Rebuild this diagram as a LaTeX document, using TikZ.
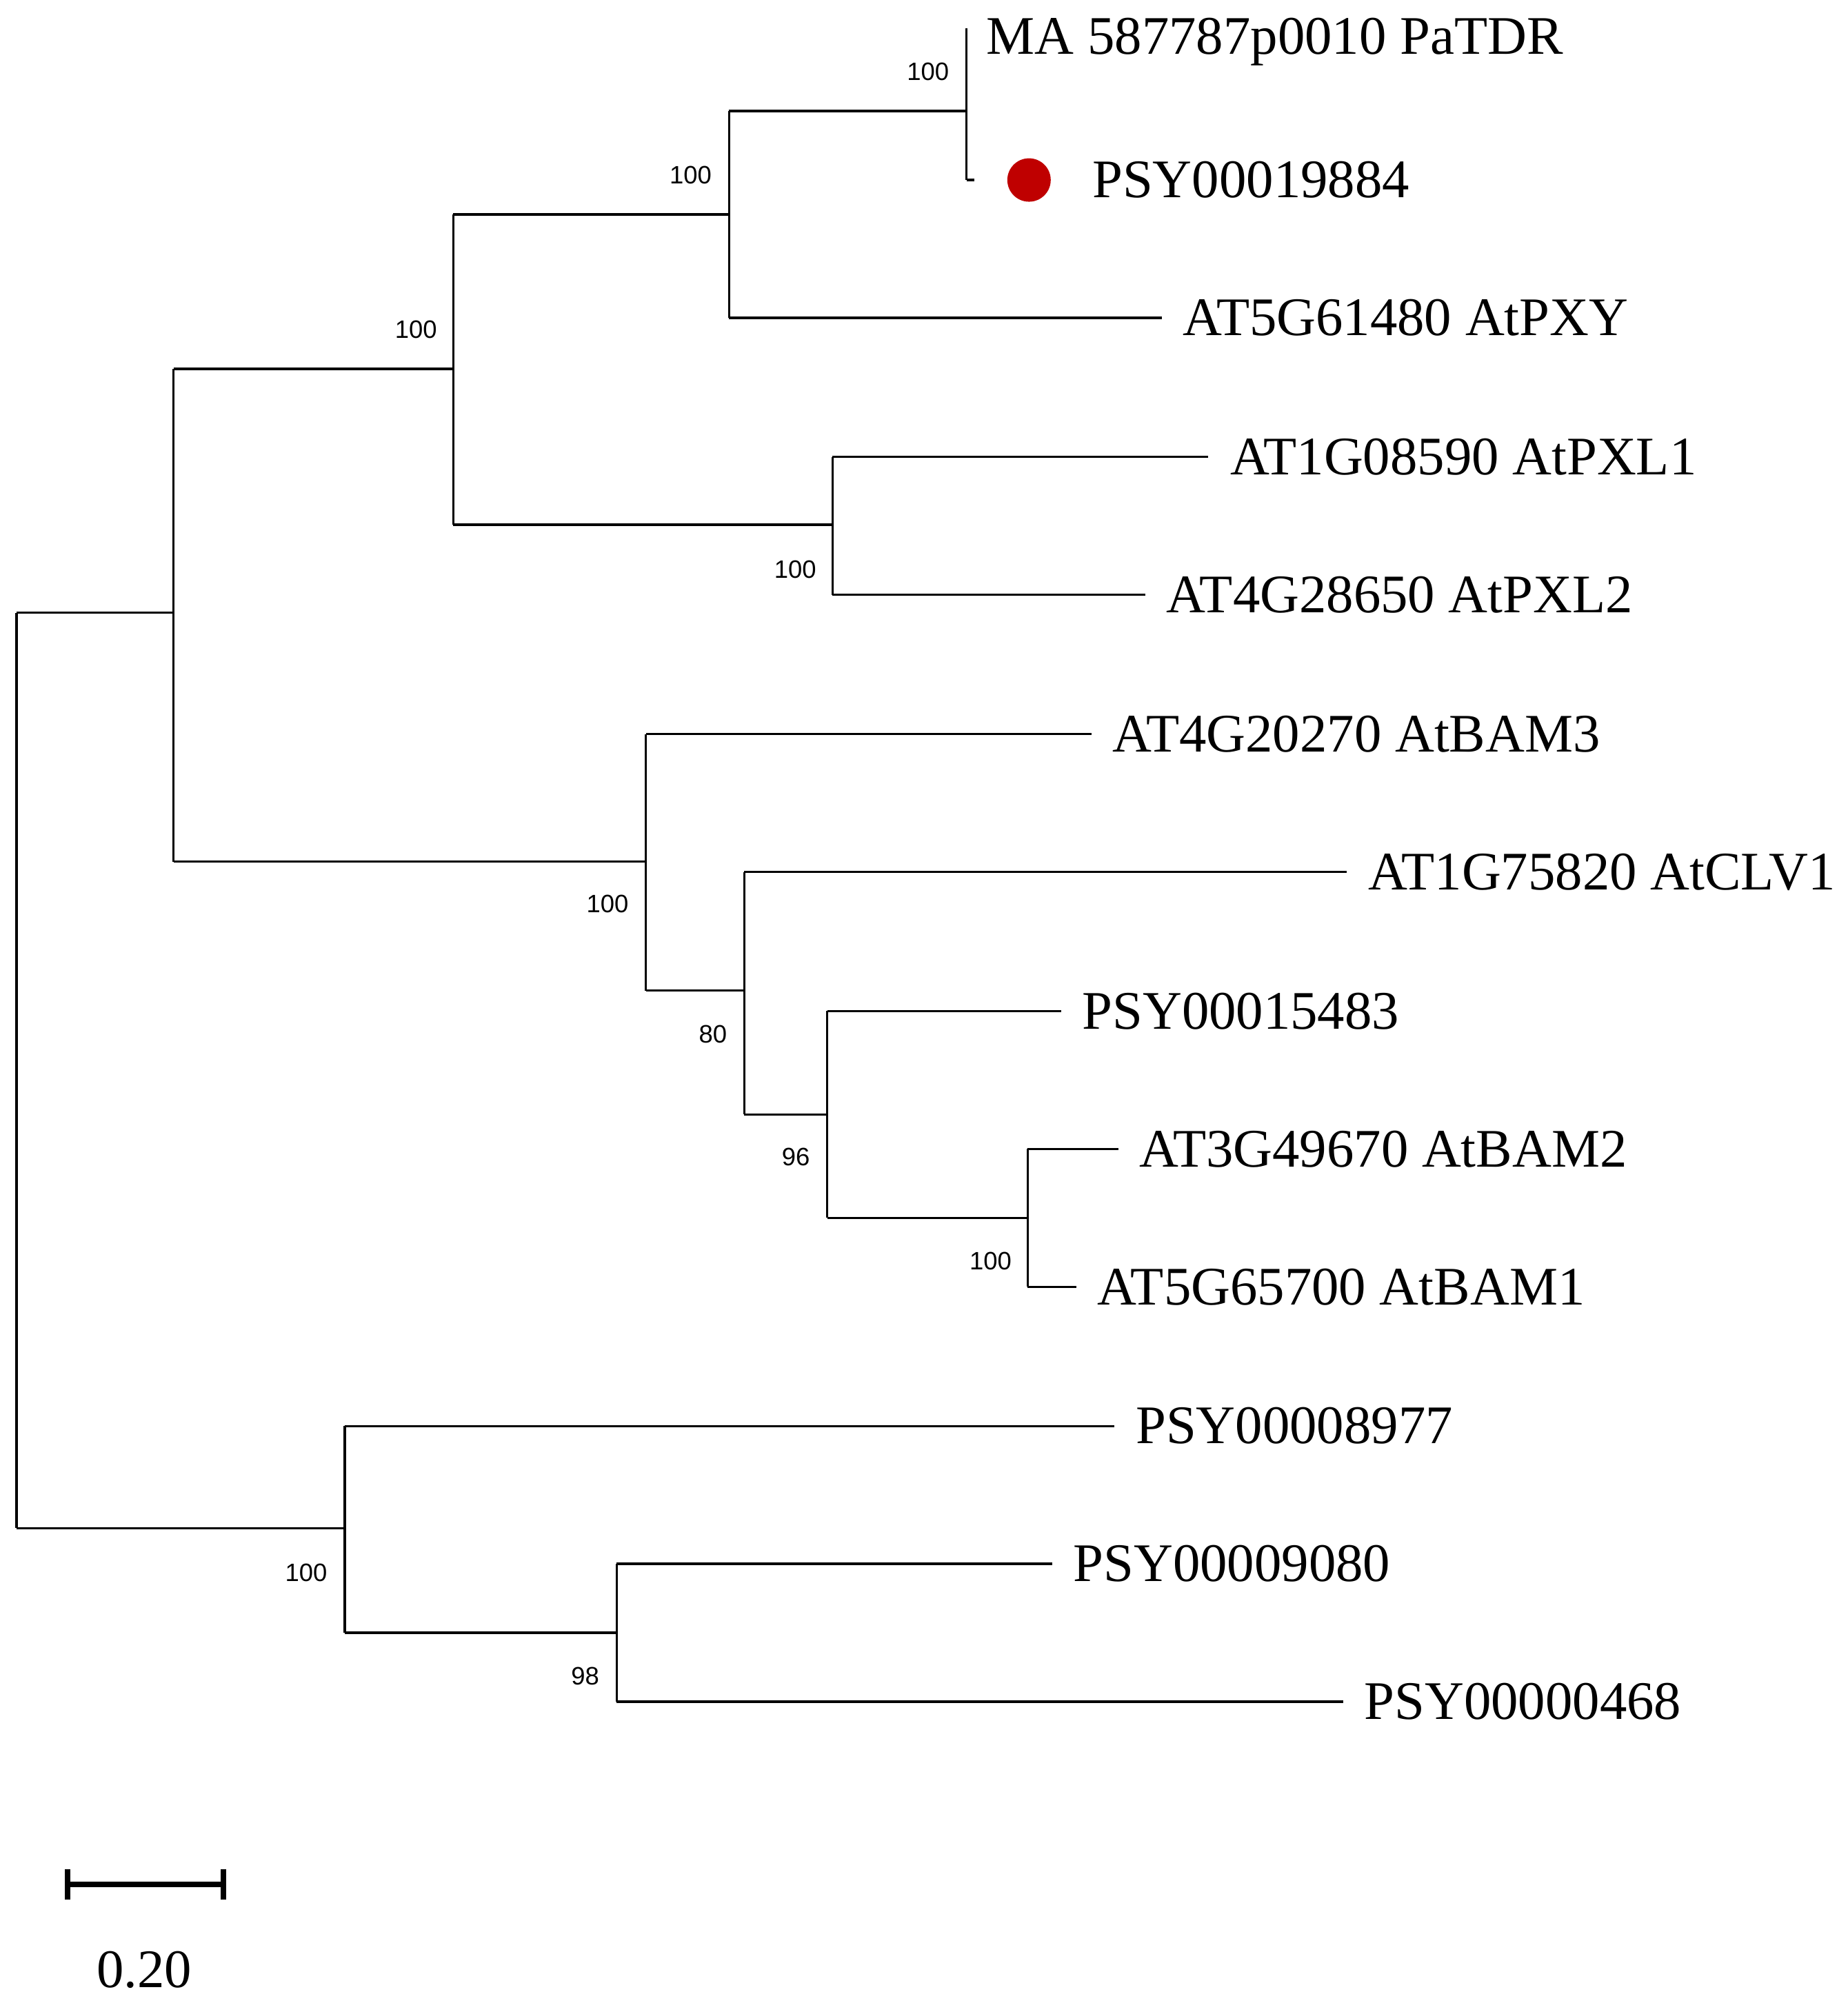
\documentclass[tikz,border=0pt]{standalone}
\usepackage{fontspec}
\setmainfont{Liberation Serif}
\newfontfamily\bsfont{Liberation Sans}
\begin{document}
\begin{tikzpicture}[x=0.01cm,y=-0.01cm,
  br/.style={line width=0.5pt},
  lab/.style={anchor=west,inner sep=0pt,font=\fontsize{12.1}{14}\selectfont},
  bs/.style={anchor=east,inner sep=0pt,font=\bsfont\fontsize{5.6}{6}\selectfont}]
\useasboundingbox (0,0) rectangle (1447,1569);
% internal nodes
\coordinate (R) at (13,0);
\coordinate (A) at (136,0);
\coordinate (B) at (355,0);
\coordinate (C) at (571,0);
\coordinate (D) at (757,0);
\coordinate (E) at (652,0);
\coordinate (F) at (506,0);
\coordinate (G) at (583,0);
\coordinate (H) at (648,0);
\coordinate (I) at (805,0);
\coordinate (J) at (270,0);
\coordinate (K) at (483,0);
% leaf tips
\coordinate (l1) at (757,33);
\coordinate (l2) at (763,141);
\coordinate (l3) at (910,249);
\coordinate (l4) at (946,358);
\coordinate (l5) at (897,466);
\coordinate (l6) at (855,575);
\coordinate (l7) at (1055,683);
\coordinate (l8) at (831,792);
\coordinate (l9) at (876,900);
\coordinate (l10) at (843,1008);
\coordinate (l11) at (873,1117);
\coordinate (l12) at (824,1225);
\coordinate (l13) at (1052,1333);
% root
\draw[br] (R|-0,480) -- (R|-0,1197);
\draw[br] (R|-0,480) -- (A|-0,480);
\draw[br] (R|-0,1197) -- (J|-0,1197);
% A
\draw[br] (A|-0,289) -- (A|-0,675);
\draw[br] (A|-0,289) -- (B|-0,289);
\draw[br] (A|-0,675) -- (F|-0,675);
% B
\draw[br] (B|-0,168) -- (B|-0,411);
\draw[br] (B|-0,168) -- (C|-0,168);
\draw[br] (B|-0,411) -- (E|-0,411);
% C
\draw[br] (C|-0,87) -- (C|-0,249);
\draw[br] (C|-0,87) -- (D|-0,87);
\draw[br] (C|-0,249) -- (l3);
% D
\draw[br] (D|-0,22) -- (D|-0,141);
\draw[br] (D|-0,141) -- (l2);
% E
\draw[br] (E|-0,358) -- (E|-0,466);
\draw[br] (E|-0,358) -- (l4);
\draw[br] (E|-0,466) -- (l5);
% F
\draw[br] (F|-0,575) -- (F|-0,776);
\draw[br] (F|-0,575) -- (l6);
\draw[br] (F|-0,776) -- (G|-0,776);
% G
\draw[br] (G|-0,683) -- (G|-0,873);
\draw[br] (G|-0,683) -- (l7);
\draw[br] (G|-0,873) -- (H|-0,873);
% H
\draw[br] (H|-0,792) -- (H|-0,954);
\draw[br] (H|-0,792) -- (l8);
\draw[br] (H|-0,954) -- (I|-0,954);
% I
\draw[br] (I|-0,900) -- (I|-0,1008);
\draw[br] (I|-0,900) -- (l9);
\draw[br] (I|-0,1008) -- (l10);
% J
\draw[br] (J|-0,1117) -- (J|-0,1279);
\draw[br] (J|-0,1117) -- (l11);
\draw[br] (J|-0,1279) -- (K|-0,1279);
% K
\draw[br] (K|-0,1225) -- (K|-0,1333);
\draw[br] (K|-0,1225) -- (l12);
\draw[br] (K|-0,1333) -- (l13);
% labels
\node[lab] (n1) at (772,33) {MA 587787p0010 PaTDR};
\fill[red!75!black] (806,141) circle (17);
\node[lab] (n2) at (855,141) {PSY00019884};
\node[lab] (n3) at (926,249) {AT5G61480 AtPXY};
\node[lab] (n4) at (963,358) {AT1G08590 AtPXL1};
\node[lab] (n5) at (913,466) {AT4G28650 AtPXL2};
\node[lab] (n6) at (871,575) {AT4G20270 AtBAM3};
\node[lab] (n7) at (1071,683) {AT1G75820 AtCLV1};
\node[lab] (n8) at (847,792) {PSY00015483};
\node[lab] (n9) at (892,900) {AT3G49670 AtBAM2};
\node[lab] (n10) at (859,1008) {AT5G65700 AtBAM1};
\node[lab] (n11) at (889,1117) {PSY00008977};
\node[lab] (n12) at (840,1225) {PSY00009080};
\node[lab] (n13) at (1068,1333) {PSY00000468};
% bootstrap
\node[bs] (b1) at (744,56) {100};
\node[bs] (b2) at (558,137) {100};
\node[bs] (b3) at (343,258) {100};
\node[bs] (b4) at (640,446) {100};
\node[bs] (b5) at (493,708) {100};
\node[bs] (b6) at (570,810) {80};
\node[bs] (b7) at (635,906) {96};
\node[bs] (b8) at (793,988) {100};
\node[bs] (b9) at (257,1232) {100};
\node[bs] (b10) at (470,1313) {98};
% scale bar
\coordinate (s1) at (53,1476);
\coordinate (s2) at (175,1476);
\draw[line width=1.2pt] (s1) -- (s2);
\draw[line width=1.2pt] (53,1464) -- (53,1488);
\draw[line width=1.2pt] (175,1464) -- (175,1488);
\node[inner sep=0pt,font=\fontsize{12.1}{14}\selectfont] (sc) at (113,1543) {0.20};
\end{tikzpicture}
\end{document}
